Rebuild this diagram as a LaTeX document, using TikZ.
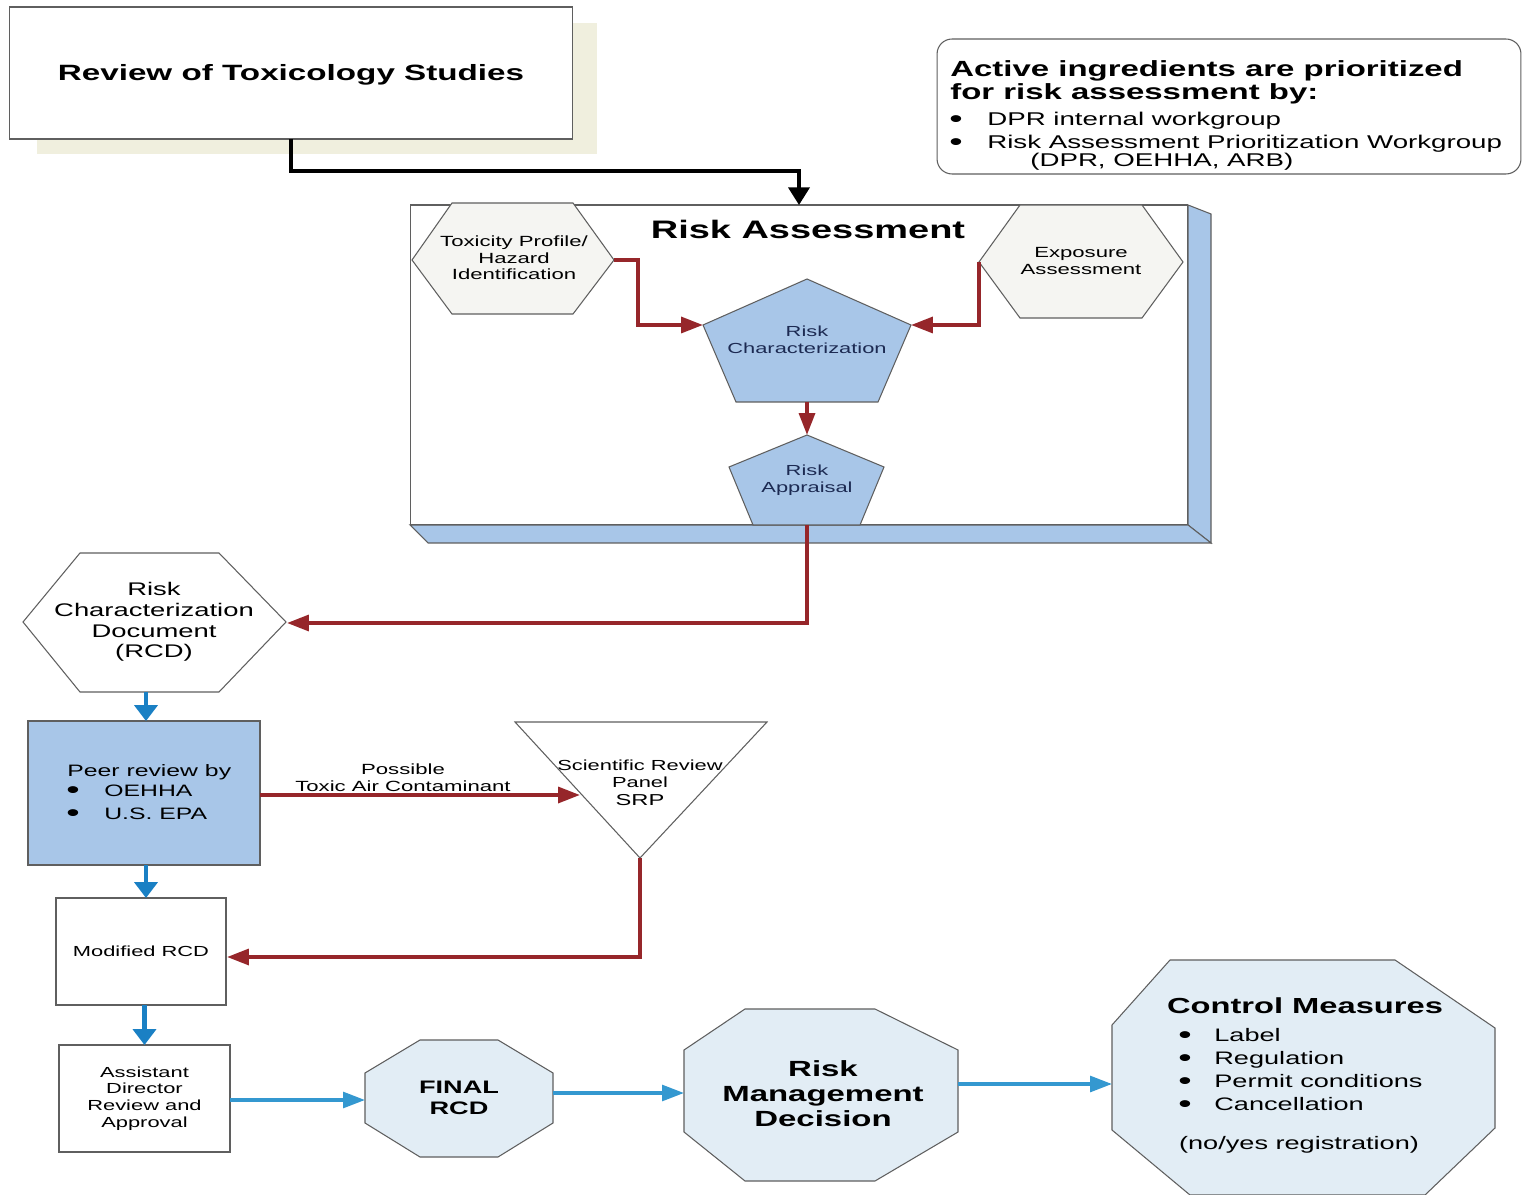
\documentclass[tikz,border=0pt]{standalone}
\usepackage{fontspec}
\setmainfont{Liberation Sans}[FakeStretch=1.5]
\usetikzlibrary{arrows.meta}
\definecolor{dred}{RGB}{150,38,42}
\definecolor{ablue}{RGB}{26,128,196}
\definecolor{hblue}{RGB}{52,152,208}
\definecolor{lblue}{RGB}{168,198,232}
\definecolor{pale}{RGB}{226,237,245}
\definecolor{hexfill}{RGB}{245,245,242}
\definecolor{shadowy}{RGB}{240,239,222}
\definecolor{navy}{RGB}{28,42,82}
\definecolor{edge}{RGB}{95,95,95}
\newcommand{\fz}[2]{\fontsize{#1}{#2}\selectfont}
\newcommand{\bigbul}{{\fontsize{14.5}{12}\selectfont\textbullet}}
\begin{document}
\begin{tikzpicture}[x=0.02cm,y=-0.02cm,
  redarrow/.style={draw=dred,line width=2.2pt,-{Triangle[length=12.5pt,width=9pt]}},
  bluearrowv/.style={draw=ablue,line width=2.6pt,-{Triangle[length=9pt,width=13pt]}},
  bluearrowh/.style={draw=hblue,line width=1.9pt,-{Triangle[length=12.5pt,width=9pt]}},
  blackarrow/.style={draw=black,line width=1.9pt,-{Triangle[length=10pt,width=12pt]}},
  outline/.style={draw=edge,line width=0.6pt},
  txt/.style={inner sep=0pt,align=center},
  ltxt/.style={inner sep=0pt,anchor=base west},
  boxnode/.style={outline,inner sep=0pt,outer sep=0pt},
]
\useasboundingbox (0,0) rectangle (1524,1195);
\fill[white] (0,0) rectangle (1524,1195);

% ---------- Review of Toxicology Studies ----------
\fill[shadowy] (37,23) rectangle (597,154);
\node[boxnode,fill=white,minimum width=11.28cm,minimum height=2.64cm] (review) at (291,73) {};
\node[txt,anchor=base,font=\fz{12.6}{15}\bfseries] (reviewtxt) at (291,81) {Review of Toxicology Studies};

% ---------- Active ingredients box ----------
\node[boxnode,rounded corners=0.3cm,minimum width=11.68cm,minimum height=2.7cm] (active) at (1229,106.5) {};
\node[ltxt,font=\fz{12.5}{13}\bfseries] (act1) at (950,77) {Active ingredients are prioritized};
\node[ltxt,font=\fz{12.5}{13}\bfseries] (act2) at (950,100) {for risk assessment by:};
\node[ltxt] (bul1) at (949,128) {\bigbul};
\node[ltxt,font=\fz{10.5}{12}] (act3) at (987,126) {DPR internal workgroup};
\node[ltxt] (bul2) at (949,151) {\bigbul};
\node[ltxt,font=\fz{10.5}{12}] (act4) at (987,149) {Risk Assessment Prioritization Workgroup};
\node[ltxt,font=\fz{10.5}{12}] (act5) at (1030,167) {(DPR, OEHHA, ARB)};

% ---------- Risk Assessment 3D box ----------
\draw[outline,fill=lblue] (1188,205) -- (1211,214) -- (1211,543) -- (1188,525) -- cycle;
\draw[outline,fill=lblue] (410,525) -- (1188,525) -- (1211,543) -- (428,543) -- cycle;
\node[boxnode,fill=white,minimum width=15.56cm,minimum height=6.4cm] (ra) at (799,365) {};
\node[txt,anchor=base,font=\fz{14.4}{16}\bfseries] (ratitle) at (808,239) {Risk Assessment};
\coordinate (ratop) at (799,205);
\draw[blackarrow] (review.south) -- ++(0,32) -| (ratop);

% hexagons
\draw[outline,fill=hexfill] (412,260) -- (452,203) -- (573,203) -- (614,260) -- (573,314) -- (452,314) -- cycle;
\node[txt,font=\fz{8.4}{9.4}] (tox) at (514,258) {Toxicity Profile/\\Hazard\\Identification};
\coordinate (tox-e) at (614,260);
\draw[outline,fill=hexfill] (979,262) -- (1020,205) -- (1142,205) -- (1183,262) -- (1142,318) -- (1020,318) -- cycle;
\node[txt,font=\fz{8.4}{9.4}] (expo) at (1081,261) {Exposure\\Assessment};
\coordinate (exp-w) at (979,262);

% pentagons
\draw[outline,fill=lblue] (807,279) -- (911,325) -- (878,402) -- (736,402) -- (703,325) -- cycle;
\node[txt,font=\fz{8.3}{9.4},text=navy] (rc) at (807,340) {Risk\\Characterization};
\coordinate (rc-w) at (703,325);
\coordinate (rc-e) at (911,325);
\coordinate (rc-s) at (807,402);
\draw[outline,fill=lblue] (807,435) -- (884,467) -- (860,525) -- (753,525) -- (729,467) -- cycle;
\node[txt,font=\fz{8.3}{9.4},text=navy] (rap) at (807,480) {Risk\\Appraisal};
\coordinate (ra-n) at (807,435);
\coordinate (ra-s) at (807,525);

\draw[redarrow] (tox-e) -- ++(24,0) |- (rc-w);
\draw[redarrow] (exp-w) |- (rc-e);
\draw[redarrow] (rc-s) -- (ra-n);

% ---------- RCD hexagon ----------
\draw[outline,fill=white] (23,622) -- (80,553) -- (219,553) -- (286,622) -- (219,692) -- (80,692) -- cycle;
\node[txt,font=\fz{10.4}{11.7}] (rcd) at (154,622) {Risk\\Characterization\\Document\\(RCD)};
\coordinate (rcd-e) at (287,623);
\coordinate (rcd-s) at (146,692);
\draw[redarrow] (ra-s) |- (rcd-e);

% ---------- Peer review ----------
\node[boxnode,fill=lblue,minimum width=4.64cm,minimum height=2.88cm] (peer) at (144,793) {};
\node[ltxt,font=\fz{9.4}{12}] (peer1) at (67,776) {Peer review by};
\node[ltxt] (pbul1) at (66,798) {\bigbul};
\node[ltxt,font=\fz{9.4}{12}] (peer2) at (104,796) {OEHHA};
\node[ltxt] (pbul2) at (66,821) {\bigbul};
\node[ltxt,font=\fz{9.4}{12}] (peer3) at (104,819) {U.S. EPA};
\draw[bluearrowv] (rcd-s) -- (rcd-s |- peer.north);

% ---------- SRP ----------
\draw[outline,fill=white] (515,722) -- (767,722) -- (640,858) -- cycle;
\node[txt,font=\fz{8.3}{9.4}] (srpt) at (640,774) {Scientific Review\\Panel};
\node[txt,font=\fz{9}{10}] (srpabbr) at (640,800) {SRP};
\coordinate (srp-w) at (580,795);
\coordinate (srp-s) at (640,858);
\node[txt,font=\fz{8.4}{9.6}] (tac) at (403,778) {Possible\\Toxic Air Contaminant};
\draw[redarrow] (peer.east |- srp-w) -- (srp-w);

% ---------- Modified RCD ----------
\node[boxnode,fill=white,minimum width=3.4cm,minimum height=2.14cm,font=\fz{8.3}{9.5}] (mod) at (141,951.5) {Modified RCD};
\coordinate (mod-in) at (227,957);
\draw[redarrow] (srp-s) |- (mod-in);
\draw[bluearrowv] (peer.south -| rcd-s) -- (rcd-s |- mod.north);

% ---------- Assistant Director ----------
\node[boxnode,fill=white,minimum width=3.42cm,minimum height=2.14cm,align=center,font=\fz{8.3}{9.5}] (asst) at (144.5,1098.5) {Assistant\\Director\\Review and\\Approval};
\draw[bluearrowv] (mod.south -| asst.north) -- (asst.north);

% ---------- FINAL RCD ----------
\draw[outline,fill=pale] (420,1040) -- (498,1040) -- (553,1073) -- (553,1123) -- (498,1157) -- (420,1157) -- (365,1123) -- (365,1073) -- cycle;
\node[txt,font=\fz{10.3}{11.9}\bfseries] (final) at (459,1098) {FINAL\\RCD};
\coordinate (fin-w) at (365,1100);
\coordinate (fin-e) at (553,1093);
\draw[bluearrowh] (asst.east |- fin-w) -- (fin-w);

% ---------- Risk Management Decision ----------
\draw[outline,fill=pale] (745,1009) -- (875,1009) -- (958,1050) -- (958,1132) -- (875,1181) -- (745,1181) -- (684,1132) -- (684,1050) -- cycle;
\node[txt,font=\fz{12.5}{14.2}\bfseries] (rmd) at (823,1094) {Risk\\Management\\Decision};
\coordinate (rmd-w) at (684,1093);
\coordinate (rmd-e) at (958,1084);
\draw[bluearrowh] (fin-e) -- (rmd-w);

% ---------- Control Measures ----------
\draw[outline,fill=pale] (1170,960) -- (1395,960) -- (1495,1028) -- (1495,1128) -- (1425,1195) -- (1190,1195) -- (1112,1130) -- (1112,1025) -- cycle;
\coordinate (cm-w) at (1112,1084);
\draw[bluearrowh] (rmd-e) -- (cm-w);
\node[txt,anchor=base,font=\fz{12.4}{13}\bfseries] (cmtitle) at (1305,1013) {Control Measures};
\node[ltxt] (cbul1) at (1178,1043) {\bigbul};
\node[ltxt,font=\fz{10.3}{12}] (cm1) at (1214,1041) {Label};
\node[ltxt] (cbul2) at (1178,1066) {\bigbul};
\node[ltxt,font=\fz{10.3}{12}] (cm2) at (1214,1064) {Regulation};
\node[ltxt] (cbul3) at (1178,1089) {\bigbul};
\node[ltxt,font=\fz{10.3}{12}] (cm3) at (1214,1087) {Permit conditions};
\node[ltxt] (cbul4) at (1178,1112) {\bigbul};
\node[ltxt,font=\fz{10.3}{12}] (cm4) at (1214,1110) {Cancellation};
\node[txt,font=\fz{10.3}{12}] (noyes) at (1299,1145) {(no/yes registration)};
\end{tikzpicture}
\end{document}
